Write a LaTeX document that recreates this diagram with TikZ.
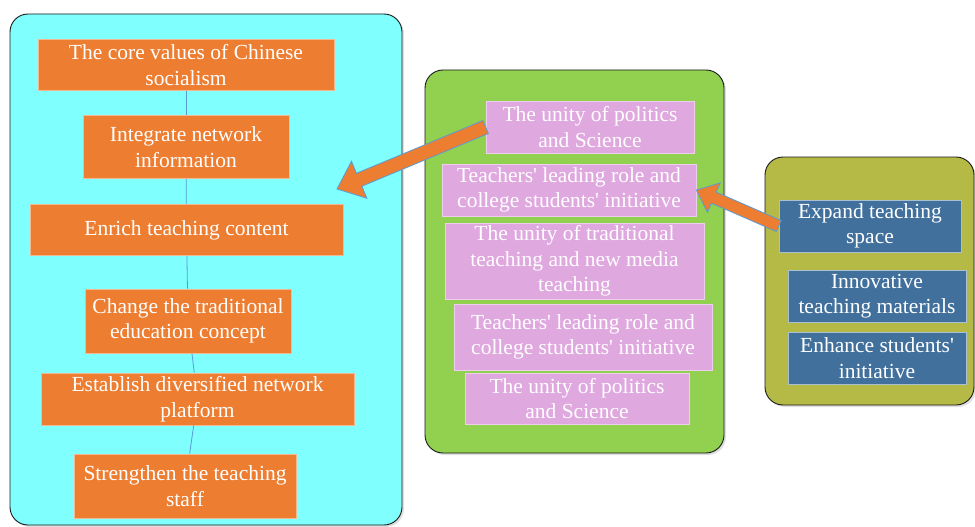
\documentclass[tikz,border=0pt]{standalone}
\usepackage{fontspec}
\setmainfont{Liberation Serif}
\usetikzlibrary{calc,shadows}
\definecolor{vblack}{HTML}{1A1A1A}
\definecolor{vcyan}{HTML}{80FFFF}
\definecolor{vgreen}{HTML}{92D050}
\definecolor{volive}{HTML}{B4BA45}
\definecolor{vorange}{HTML}{ED7D31}
\definecolor{vpink}{HTML}{DFA8DF}
\definecolor{vblue}{HTML}{41709C}
\definecolor{vline}{HTML}{5B9BD5}

\tikzset{
  panel/.style={draw=vblack, line width=0.9, rounded corners=18,
    drop shadow={opacity=0.25, shadow xshift=2pt, shadow yshift=-2pt}},
  textbox/.style={text=white, align=center, inner sep=0,
    font=\fontsize{21.5}{25.5}\selectfont},
  obox/.style={textbox, fill=vorange, draw=vorange!55!white, line width=0.7},
  pbox/.style={textbox, fill=vpink, draw=vpink!55!white, line width=0.7},
  bbox/.style={textbox, fill=vblue, draw=vblue!45!white, line width=0.7},
  link/.style={draw=vline, line width=0.8},
  bigarrow/.style={fill=vorange, draw=vline, line width=0.8, line join=miter}
}

% fat arrow from #1 to #2: shaft half width #3, head half width #4, head length #5
\newcommand\fatarrow[5]{
  \draw[bigarrow] let \p1=($(#2)-(#1)$), \n1={atan2(\y1,\x1)}, \n2={veclen(\x1,\y1)} in
    [shift={(#1)}, rotate=\n1]
    (0,-#3) -- (\n2-#5,-#3) -- (\n2-#5,-#4) -- (\n2,0) -- (\n2-#5,#4) -- (\n2-#5,#3) -- (0,#3) -- cycle;
}
\newcommand\apos{\textquotesingle}

\begin{document}
\begin{tikzpicture}[x=1pt, y=-1pt]
  \useasboundingbox (0,0) rectangle (975,527);

  % panels
  \draw[panel, fill=vcyan] (10,14) rectangle (402,525);
  \draw[panel, fill=vgreen] (425,70) rectangle (724,453);
  \draw[panel, fill=volive] (765,157) rectangle (974,405);

  % left column
  \node[obox, minimum width=296, minimum height=51] (core) at (186,65) {The core values of Chinese\\socialism};
  \node[obox, minimum width=206, minimum height=63] (integrate) at (186,147) {Integrate network\\information};
  \node[obox, minimum width=313, minimum height=51] (enrich) at (186.5,230) {Enrich teaching content};
  \node[obox, minimum width=206, minimum height=64] (change) at (188,321) {Change the traditional\\education concept};
  \node[obox, minimum width=313, minimum height=52] (platform) at (197.5,399) {Establish diversified network\\platform};
  \node[obox, minimum width=222, minimum height=64] (staff) at (185,486) {Strengthen the teaching\\staff};

  \draw[link] (core) -- (integrate);
  \draw[link] (integrate) -- (enrich);
  \draw[link] (enrich) -- (change);
  \draw[link] (change) -- (platform);
  \draw[link] (platform) -- (staff);

  % middle column
  \node[pbox, minimum width=208, minimum height=52] (unityA) at (590,127) {The unity of politics\\and Science};
  \node[pbox, minimum width=254, minimum height=52] (leadA) at (569,190) {Teachers\apos{} leading role and\\college students\apos{} initiative};
  \node[pbox, minimum width=259, minimum height=76] (media) at (574.5,261) {The unity of traditional\\teaching and new media\\teaching};
  \node[pbox, minimum width=258, minimum height=66] (leadB) at (583,337) {Teachers\apos{} leading role and\\college students\apos{} initiative};
  \node[pbox, minimum width=224, minimum height=51] (unityB) at (577,398.5) {The unity of politics\\and Science};

  % right column
  \node[bbox, minimum width=182, minimum height=52] (expand) at (870,226) {Expand teaching\\space};
  \node[bbox, minimum width=178, minimum height=52] (materials) at (877,296) {Innovative\\teaching materials};
  \node[bbox, minimum width=178, minimum height=52] (initiative) at (877,358) {Enhance students\apos\\initiative};

  % arrows
  \coordinate (target) at (337,189);
  \fatarrow{unityA.west}{target}{7}{20}{24}
  \fatarrow{expand.west}{leadA.east}{6}{16}{19}
\end{tikzpicture}
\end{document}
